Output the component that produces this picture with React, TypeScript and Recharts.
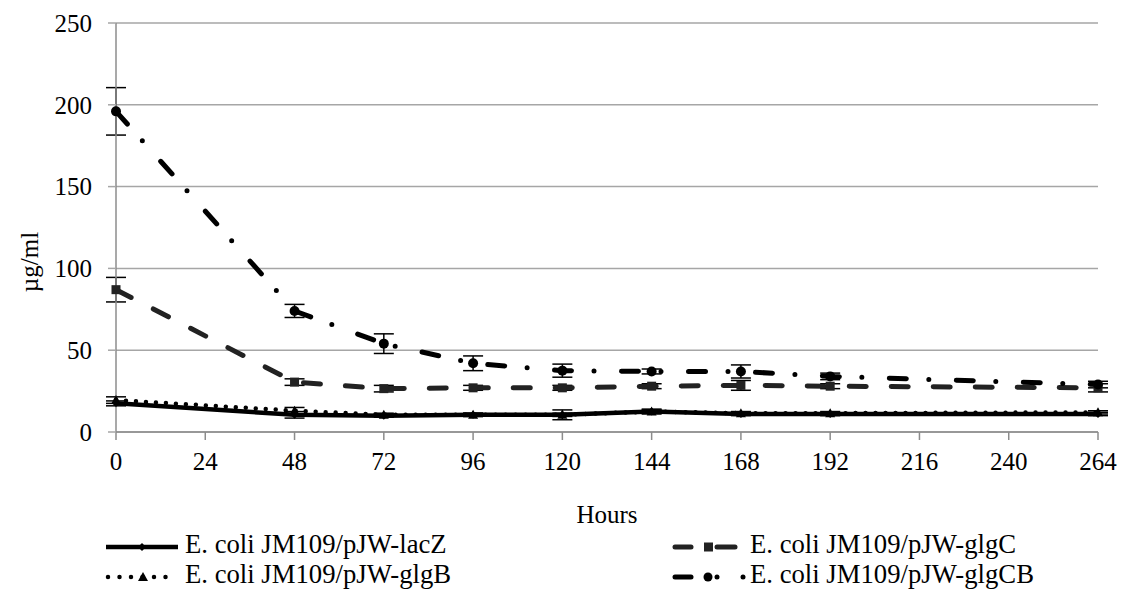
import React from 'react';
import { LineChart, Line, XAxis, YAxis, CartesianGrid, ErrorBar } from 'recharts';

// sampling times (h)
const hours = [0, 48, 72, 96, 120, 144, 168, 192, 264];

const lacZ = [17.5, 10.5, 10, 10.5, 10.5, 12.5, 11, 11, 11];
const lacZErr = [1.5, 2, 1, 1, 3, 1.5, 1, 1, 1];
const glgC = [87, 30.5, 26.5, 27, 27, 28, 28.5, 28, 27];
const glgCErr = [7.5, 2, 2, 1.5, 1.5, 1.5, 3, 1.5, 2.5];
const glgB = [19.5, 13, 10.5, 10.5, 10.5, 12.5, 11.5, 11.5, 12];
const glgBErr = [2, 2, 1, 1, 1, 1, 1, 1, 1];
const glgCB = [196, 74, 54, 42, 37.5, 37, 37, 34, 29];
const glgCBErr = [14.5, 4, 6, 4.5, 4, 1.5, 4, 2, 2];

const xTicks = [0, 24, 48, 72, 96, 120, 144, 168, 192, 216, 240, 264];
const yTicks = [0, 50, 100, 150, 200, 250];

const names = {
  lacZ: 'E. coli JM109/pJW-lacZ',
  glgC: 'E. coli JM109/pJW-glgC',
  glgB: 'E. coli JM109/pJW-glgB',
  glgCB: 'E. coli JM109/pJW-glgCB',
};

const data = hours.map((h, i) => ({
  hour: h,
  lacZ: lacZ[i], lacZErr: lacZErr[i],
  glgC: glgC[i], glgCErr: glgCErr[i],
  glgB: glgB[i], glgBErr: glgBErr[i],
  glgCB: glgCB[i], glgCBErr: glgCBErr[i],
}));

const FONT = 'Liberation Serif';
const tickStyle = { fill: '#000', fontSize: 25, fontFamily: FONT };

const diamondDot = (p: any) => (
  <path key={`d-${p.index}`} d={`M${p.cx},${p.cy - 4}L${p.cx + 4},${p.cy}L${p.cx},${p.cy + 4}L${p.cx - 4},${p.cy}Z`} fill="#000" />
);
const squareDot = (p: any) => (
  <rect key={`s-${p.index}`} x={p.cx - 4.5} y={p.cy - 4.5} width={9} height={9} fill="#222" />
);
const triDot = (p: any) => (
  <path key={`t-${p.index}`} d={`M${p.cx},${p.cy - 5}L${p.cx + 5},${p.cy + 4}L${p.cx - 5},${p.cy + 4}Z`} fill="#000" />
);
const circleDot = (p: any) => (
  <circle key={`c-${p.index}`} cx={p.cx} cy={p.cy} r={5} fill="#000" />
);

const YTitle = () => (
  <text x={29} y={262} transform="rotate(-90 29 262)" textAnchor="middle" dominantBaseline="central"
    fill="#000" fontSize={25} fontFamily={FONT}>µg/ml</text>
);

// legend drawn below the plot, two columns like the original
const LegendOverlay = () => (
  <svg width={1126} height={593} style={{ position: 'absolute', left: 0, top: 0, pointerEvents: 'none' }}>
    <g fontFamily={FONT} fontSize={26.7} fill="#000">
      {/* lacZ */}
      <line x1={106} y1={547} x2={178} y2={547} stroke="#000" strokeWidth={4.5} />
      <path d="M142,543L146,547L142,551L138,547Z" fill="#000" />
      <text x={185} y={553}>{names.lacZ}</text>
      {/* glgB */}
      <line x1={108} y1={577} x2={170} y2={577} stroke="#000" strokeWidth={4.5} strokeLinecap="round" strokeDasharray="0 11.5" />
      <path d="M143,572L148,581L138,581Z" fill="#000" />
      <text x={185} y={583}>{names.glgB}</text>
      {/* glgC */}
      <line x1={675} y1={547} x2={691} y2={547} stroke="#222" strokeWidth={5} strokeLinecap="round" />
      <rect x={704} y={542.5} width={9} height={9} fill="#222" />
      <line x1={717} y1={547} x2={735} y2={547} stroke="#222" strokeWidth={5} strokeLinecap="round" />
      <text x={750} y={553}>{names.glgC}</text>
      {/* glgCB */}
      <line x1={675} y1={577} x2={691} y2={577} stroke="#000" strokeWidth={5} strokeLinecap="round" />
      <circle cx={708} cy={577} r={4.5} fill="#000" />
      <circle cx={717} cy={577} r={2.5} fill="#000" />
      <circle cx={743} cy={577} r={2.5} fill="#000" />
      <text x={750} y={583}>{names.glgCB}</text>
    </g>
  </svg>
);

export default function App() {
  return (
    <div style={{ position: 'absolute', left: 0, top: 0, width: 1126, height: 593, background: '#fff' }}>
      <LineChart width={1126} height={593} data={data} margin={{ top: 23, right: 28, left: 0, bottom: 61 }}>
        <CartesianGrid horizontal vertical={false} stroke="#a6a6a6" strokeWidth={1.5} />
        <XAxis
          type="number"
          dataKey="hour"
          domain={[0, 264]}
          ticks={xTicks}
          interval={0}
          height={100}
          tick={tickStyle}
          tickSize={8}
          tickMargin={12}
          axisLine={{ stroke: '#8c8c8c', strokeWidth: 1.5 }}
          tickLine={{ stroke: '#8c8c8c', strokeWidth: 1.5 }}
          label={{ value: 'Hours', position: 'insideBottom', offset: 9, fill: '#000', fontSize: 25, fontFamily: FONT }}
        />
        <YAxis
          type="number"
          domain={[0, 250]}
          ticks={yTicks}
          interval={0}
          width={116}
          tick={tickStyle}
          tickSize={8}
          tickMargin={16}
          axisLine={{ stroke: '#8c8c8c', strokeWidth: 1.5 }}
          tickLine={{ stroke: '#a6a6a6', strokeWidth: 1.5 }}
          label={<YTitle />}
        />
        <Line type="linear" dataKey="lacZ" name={names.lacZ} stroke="#000" strokeWidth={4.5}
          dot={diamondDot} activeDot={false} isAnimationActive={false}>
          <ErrorBar dataKey="lacZErr" width={10} stroke="#000" strokeWidth={1.5} direction="y" />
        </Line>
        <Line type="linear" dataKey="glgB" name={names.glgB} stroke="#000" strokeWidth={4.5}
          strokeDasharray="0 10" strokeLinecap="round" dot={triDot} activeDot={false} isAnimationActive={false}>
          <ErrorBar dataKey="glgBErr" width={10} stroke="#000" strokeWidth={1.5} direction="y" />
        </Line>
        <Line type="linear" dataKey="glgC" name={names.glgC} stroke="#222" strokeWidth={5}
          strokeDasharray="17 25" strokeLinecap="round" dot={squareDot} activeDot={false} isAnimationActive={false}>
          <ErrorBar dataKey="glgCErr" width={10} stroke="#000" strokeWidth={1.5} direction="y" />
        </Line>
        <Line type="linear" dataKey="glgCB" name={names.glgCB} stroke="#000" strokeWidth={5}
          strokeDasharray="17 22.5 0 27.5" strokeLinecap="round" dot={circleDot} activeDot={false} isAnimationActive={false}>
          <ErrorBar dataKey="glgCBErr" width={10} stroke="#000" strokeWidth={1.5} direction="y" />
        </Line>
      </LineChart>
      <LegendOverlay />
    </div>
  );
}
